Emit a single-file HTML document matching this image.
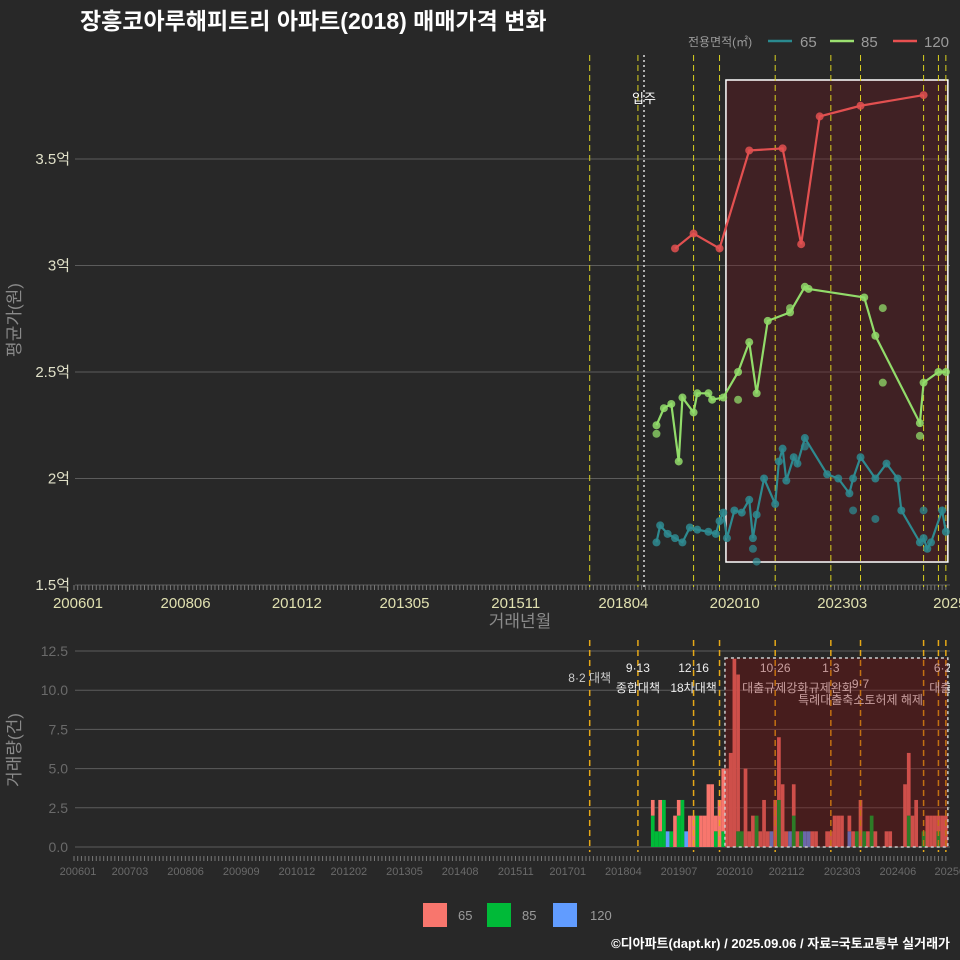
<!DOCTYPE html>
<html><head><meta charset="utf-8">
<style>
html,body{margin:0;padding:0;background:#282828;}
svg{display:block;font-family:"Liberation Sans","Noto Sans CJK KR",sans-serif;}
</style></head>
<body>
<svg id="c" width="960" height="960" viewBox="0 0 960 960" xmlns="http://www.w3.org/2000/svg">
<rect x="0" y="0" width="960" height="960" fill="#282828"/>
<text x="80" y="29" fill="#ffffff" font-size="23" font-weight="bold">장흥코아루해피트리 아파트(2018) 매매가격 변화</text>
<g id="topPanel"></g>
<g id="botPanel"></g>
<g>
<text x="688" y="46" fill="#9a9a9a" font-size="12">전용면적(㎡)</text>
<line x1="768" y1="41" x2="792" y2="41" stroke="#2a8a8f" stroke-width="2.5"/>
<text x="800" y="47" fill="#9a9a9a" font-size="15">65</text>
<line x1="830" y1="41" x2="854" y2="41" stroke="#9be070" stroke-width="2.5"/>
<text x="861" y="47" fill="#9a9a9a" font-size="15">85</text>
<line x1="893" y1="41" x2="917" y2="41" stroke="#e85050" stroke-width="2.5"/>
<text x="924" y="47" fill="#9a9a9a" font-size="15">120</text>
</g>
<g>
<rect x="423" y="903" width="24" height="24" fill="#f8766d"/>
<text x="458" y="920" fill="#9a9a9a" font-size="13">65</text>
<rect x="487" y="903" width="24" height="24" fill="#00ba38"/>
<text x="522" y="920" fill="#9a9a9a" font-size="13">85</text>
<rect x="553" y="903" width="24" height="24" fill="#619cff"/>
<text x="590" y="920" fill="#9a9a9a" font-size="13">120</text>
</g>
<text x="950" y="948" fill="#ffffff" font-size="13" font-weight="bold" text-anchor="end">©디아파트(dapt.kr) / 2025.09.06 / 자료=국토교통부 실거래가</text>
</svg>
<script>
const redMonths=[201907,201912,202007,202103,202112,202205,202210,202309,202502];
const redVals=[3.08,3.15,3.08,3.54,3.55,3.10,3.70,3.75,3.80];
const greenMonths=[201902,201904,201906,201908,201909,201912,202001,202004,202005,202008,202012,202103,202105,202108,202202,202206,202207,202310,202401,202501,202502,202506,202508];
const greenVals=[2.25,2.33,2.35,2.08,2.38,2.31,2.40,2.40,2.37,2.38,2.50,2.64,2.40,2.74,2.78,2.90,2.89,2.85,2.67,2.26,2.45,2.50,2.50];
const greenExtraMonths=[201902,202012,202202,202403,202403,202501];
const greenExtraVals=[2.21,2.37,2.80,2.80,2.45,2.20];
const tealMonths=[201902,201903,201905,201907,201909,201911,202001,202004,202006,202007,202008,202009,202011,202101,202103,202104,202105,202107,202110,202111,202112,202201,202203,202204,202206,202212,202303,202306,202307,202309,202401,202404,202407,202408,202501,202502,202503,202504,202507,202508];
const tealVals=[1.70,1.78,1.74,1.72,1.70,1.77,1.76,1.75,1.74,1.80,1.84,1.72,1.85,1.84,1.90,1.72,1.83,2.00,1.88,2.08,2.14,1.99,2.10,2.07,2.19,2.02,2.00,1.93,2.00,2.10,2.00,2.07,2.00,1.85,1.70,1.72,1.67,1.70,1.85,1.75];
const tealExtraMonths=[202104,202105,202206,202307,202401,202502];
const tealExtraVals=[1.67,1.61,2.15,1.85,1.81,1.85];
const priceTicks=[1.5,2,2.5,3,3.5];
const priceTickLabels=["1.5억","2억","2.5억","3억","3.5억"];
const topXTicks=[200601,200806,201012,201305,201511,201804,202010,202303,202508];
const botXTicks=[200601,200703,200806,200909,201012,201202,201305,201408,201511,201701,201804,201907,202010,202112,202303,202406,202508];
const volTicks=[0,2.5,5,7.5,10,12.5];
const volTickLabels=["0.0","2.5","5.0","7.5","10.0","12.5"];
const volStart=201901;
const vol65=[1,0,2,0,0,0,2,1,0,0,2,2,0,2,2,4,4,1,3,4,5,6,12,10,0,5,1,2,0,1,3,1,0,3,4,4,1,0,2,1,0,0,0,1,1,0,0,1,1,2,2,2,0,1,1,0,3,0,1,0,1,0,0,1,1,0,0,0,4,4,2,3,0,0,2,2,2,1,2,2];
const vol85=[2,1,1,3,0,1,0,2,3,0,0,0,2,0,0,0,0,1,0,1,0,0,0,1,1,0,0,0,2,0,0,0,0,0,3,0,0,0,2,0,1,0,0,0,0,0,0,0,0,0,0,0,0,0,0,1,0,1,0,2,0,0,0,0,0,0,0,0,0,2,0,0,0,1,0,0,0,1,0,0];
const vol120=[0,0,0,0,1,0,0,0,0,1,0,0,0,0,0,0,0,0,0,0,0,0,0,0,0,0,0,0,0,0,0,0,1,0,0,0,0,1,0,0,0,1,1,0,0,0,0,0,0,0,0,0,0,1,0,0,0,0,0,0,0,0,0,0,0,0,0,0,0,0,0,0,0,0,0,0,0,0,0,0];
const policyMonths=[201708,201809,201912,202007,202110,202301,202309,202502,202506,202508];
const eventLabels=[["8·2 대책",201708,"",0],["9·13",201809,"종합대책",0],["12·16",201912,"18차대책",0],["10·26",202110,"대출규제강화",0],["1·3",202301,"규제완화",0],["9·7",202309,"특례대출축소",1],["6·27",202508,"대출규",0]];
const highlightStart=202009, highlightEnd=202508;
{
function mi(ym){const y=Math.floor(ym/100),m=ym%100;return (y-2006)*12+(m-1);}
function xs(ym){return 74+mi(ym)*3.71;}
function yt(v){return 585-(v-1.5)*213;}
function yb(v){return 847-v*15.68;}
const NS="http://www.w3.org/2000/svg";
function el(tag,attrs,parent,txt){const e=document.createElementNS(NS,tag);for(const k in attrs)e.setAttribute(k,attrs[k]);if(txt!==undefined)e.textContent=txt;parent.appendChild(e);return e;}
const topG=document.getElementById('topPanel'), botG=document.getElementById('botPanel');
const defs=el('defs',{},document.getElementById('c'));
const cp=el('clipPath',{id:'cpt'},defs);el('rect',{x:75,y:55,width:875,height:532},cp);
const cpb=el('clipPath',{id:'cpb'},defs);el('rect',{x:75,y:640,width:875,height:212},cpb);
priceTicks.forEach((v,i)=>{
 const g=el('line',{x1:75,x2:950,y1:yt(v),y2:yt(v),stroke:'#5c5c5c','stroke-width':1},topG);
 
 
 const t=el('text',{x:70,y:yt(v)+5,fill:'#e0e0c8','font-size':15,'text-anchor':'end'},topG,priceTickLabels[i]);
 
 
});
for(let m=0;m<=235;m++){const x=74+m*3.71;const l=el('line',{x1:x,x2:x,y1:585,y2:590,stroke:'#777','stroke-width':1},topG);
 
 }
topXTicks.forEach(t=>{const lab=el('text',{x:xs(t)+4,y:608,fill:'#e0e0b0','font-size':15,'text-anchor':'middle'},topG,t===202508?'2025':String(t));
 
 });
let at=el('text',{x:520,y:627,fill:'#8a8a8a','font-size':17,'text-anchor':'middle'},topG,'거래년월');


at=el('text',{x:0,y:0,fill:'#8a8a8a','font-size':17,'text-anchor':'middle',transform:'translate(20,320) rotate(-90)'},topG,'평균가(원)');


let hr=el('rect',{x:xs(highlightStart)-1,y:80,width:xs(highlightEnd)-xs(highlightStart)+3,height:482,fill:'rgba(110,20,30,0.35)',stroke:'#ffffff','stroke-width':1.5},topG);


const tg=el('g',{'clip-path':'url(#cpt)'},topG);
policyMonths.forEach(m=>{const l=el('line',{x1:xs(m),x2:xs(m),y1:55,y2:590,stroke:'#d8d020','stroke-width':1,'stroke-dasharray':'6,4'},tg);
 
 });
let ml=el('line',{x1:644,x2:644,y1:55,y2:590,stroke:'#dddddd','stroke-width':1.5,'stroke-dasharray':'2,3'},tg);


let mt=el('text',{x:644,y:103,fill:'#ffffff','font-size':13,'text-anchor':'middle'},topG,'입주');


function series(months,vals,exM,exV,color,name){
 const pts=months.map((m,i)=>xs(m)+','+yt(vals[i])).join(' ');
 const pl=el('polyline',{points:pts,fill:'none',stroke:color,'stroke-width':2.2},tg);
 
 
 months.forEach((m,i)=>{const c=el('circle',{cx:xs(m),cy:yt(vals[i]),r:4,fill:color,'fill-opacity':0.85},tg);
  
  });
 exM.forEach((m,i)=>{const c=el('circle',{cx:xs(m),cy:yt(exV[i]),r:4,fill:color,'fill-opacity':0.75},tg);
  
  });
}
series(tealMonths,tealVals,tealExtraMonths,tealExtraVals,'#2e8a90','series-65');
series(greenMonths,greenVals,greenExtraMonths,greenExtraVals,'#92dc6a','series-85');
series(redMonths,redVals,[],[],'#e25050','series-120');
volTicks.forEach((v,i)=>{
 const g=el('line',{x1:75,x2:950,y1:yb(v),y2:yb(v),stroke:'#5c5c5c','stroke-width':1},botG);
 
 
 const t=el('text',{x:68,y:yb(v)+5,fill:'#6a6a6a','font-size':14,'text-anchor':'end'},botG,volTickLabels[i]);
 
 
});
for(let m=0;m<=235;m++){const x=74+m*3.71;const l=el('line',{x1:x,x2:x,y1:856,y2:861,stroke:'#777','stroke-width':1},botG);
 
 }
botXTicks.forEach(t=>{const lab=el('text',{x:xs(t)+4,y:875,fill:'#6a6a6a','font-size':11,'text-anchor':'middle'},botG,t===202508?'20250':String(t));
 
 });
at=el('text',{x:0,y:0,fill:'#8a8a8a','font-size':17,'text-anchor':'middle',transform:'translate(20,750) rotate(-90)'},botG,'거래량(건)');


const bg=el('g',{'clip-path':'url(#cpb)'},botG);
const sy=Math.floor(volStart/100), sm=volStart%100;
vol65.forEach((v,i)=>{
 const tot=sy*12+sm-1+i; const ym=Math.floor(tot/12)*100+(tot%12)+1;
 const x=xs(ym)-1.85; let base=0;
 [[vol120[i],'#619cff','bar-120'],[vol85[i],'#00ba38','bar-85'],[v,'#f8766d','bar-65']].forEach(s=>{
  if(s[0]>0){const r=el('rect',{x:x,y:yb(base+s[0]),width:3.7,height:yb(base)-yb(base+s[0]),fill:s[1]},bg);
   
   
   base+=s[0];}
 });
});
hr=el('rect',{x:xs(highlightStart)-2,y:658,width:xs(highlightEnd)-xs(highlightStart)+4,height:189,fill:'rgba(130,10,10,0.35)',stroke:'#cccccc','stroke-width':1.5,'stroke-dasharray':'3,3'},botG);


policyMonths.forEach(m=>{const l=el('line',{x1:xs(m),x2:xs(m),y1:640,y2:852,stroke:'#e6a817','stroke-width':1.5,'stroke-dasharray':'6,4'},bg);
 
 });
eventLabels.forEach(e=>{
 const x=xs(e[1]);
 if(e[2]===''){const t=el('text',{x:x,y:682,fill:'#cccccc','font-size':12,'text-anchor':'middle'},bg,e[0]);
  
  return;}
 const yy=e[3]?688:672;
 const t1=el('text',{x:x,y:yy,fill:'#eeeeee','font-size':12,'text-anchor':'middle'},bg,e[0]);
 
 
 const t2=el('text',{x:x,y:yy+(e[3]?16:20),fill:'#eeeeee','font-size':12,'text-anchor':'middle'},bg,e[2]+(e[3]?'토허제 해제':''));
 
 
});
}
</script>
</body></html>
